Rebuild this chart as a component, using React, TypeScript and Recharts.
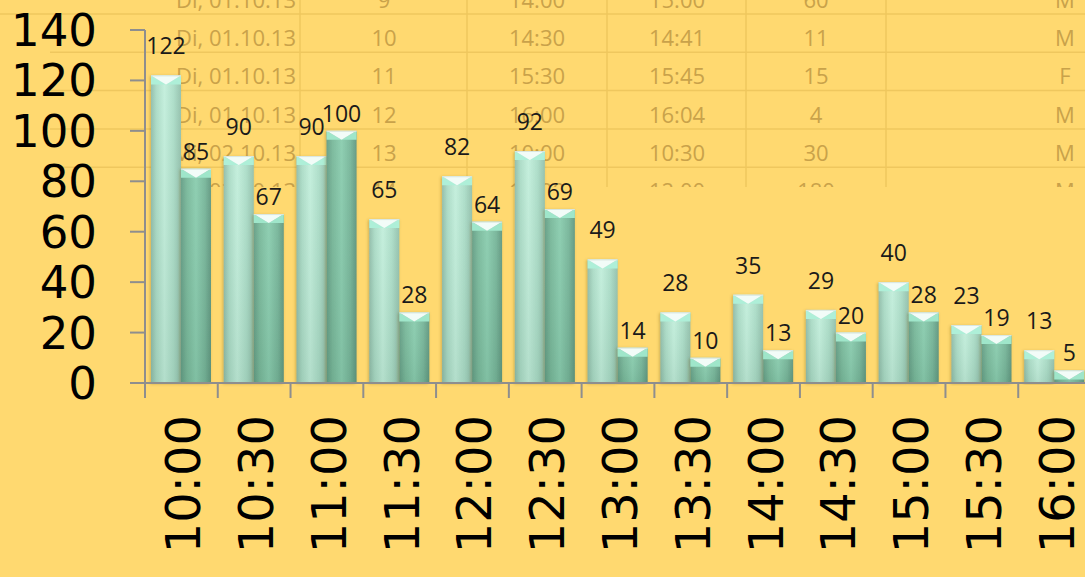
import React from 'react';
import { BarChart, Bar, XAxis, YAxis, LabelList } from 'recharts';

// arrivals per half hour, two groups
const times = ['10:00', '10:30', '11:00', '11:30', '12:00', '12:30', '13:00', '13:30', '14:00', '14:30', '15:00', '15:30', '16:00'];
const groupA = [122, 90, 90, 65, 82, 92, 49, 28, 35, 29, 40, 23, 13];
const groupB = [85, 67, 100, 28, 64, 69, 14, 10, 13, 20, 28, 19, 5];
const yTicks = [0, 20, 40, 60, 80, 100, 120, 140];

// faded spreadsheet rows behind the chart
const sheetDates = ['Di, 01.10.13', 'Di, 01.10.13', 'Di, 01.10.13', 'Di, 01.10.13', 'Mi, 02.10.13', 'Mi, 02.10.13'];
const sheetNos = ['9', '10', '11', '12', '13', '14'];
const sheetStart = ['14:00', '14:30', '15:30', '16:00', '10:00', '11:00'];
const sheetEnd = ['15:00', '14:41', '15:45', '16:04', '10:30', '12:00'];
const sheetMinutes = ['60', '11', '15', '4', '30', '180'];
const sheetSex = ['M', 'M', 'F', 'M', 'M', 'M'];

const data = times.map((t, i) => ({ time: t, a: groupA[i], b: groupB[i] }));

const BG = '#FFD970';
const AXIS = '#8E8E8E';
const CHART_W = 1091;
const CHART_H = 577;
const Y_AXIS_W = 145;
const BAND = (CHART_W - Y_AXIS_W) / times.length;

const SHEET_TEXT = '#C9A24A';
const SHEET_LINE = '#EFC75E';
const ROW_H = 38.3;
const FIRST_LINE = 14;

function Sheet() {
  const cols: { x: number; anchor: 'end' | 'middle'; cells: string[] }[] = [
    { x: 296, anchor: 'end', cells: sheetDates },
    { x: 384, anchor: 'middle', cells: sheetNos },
    { x: 537, anchor: 'middle', cells: sheetStart },
    { x: 677, anchor: 'middle', cells: sheetEnd },
    { x: 816, anchor: 'middle', cells: sheetMinutes },
    { x: 1065, anchor: 'middle', cells: sheetSex },
  ];
  const vLines = [300, 467, 607, 746, 886];
  return (
    <svg width={1085} height={577} style={{ position: 'absolute', left: 0, top: 0 }}>
      <defs>
        <clipPath id="sheetClip">
          <rect x={0} y={0} width={1085} height={187} />
        </clipPath>
        <linearGradient id="bodyA" x1="0" y1="0" x2="1" y2="0">
          <stop offset="0%" stopColor="#8DBBA7" />
          <stop offset="18%" stopColor="#A8DAC4" />
          <stop offset="45%" stopColor="#C0EEDA" />
          <stop offset="75%" stopColor="#A9DCC6" />
          <stop offset="100%" stopColor="#8FBEA9" />
        </linearGradient>
        <linearGradient id="bodyB" x1="0" y1="0" x2="1" y2="0">
          <stop offset="0%" stopColor="#5F9A81" />
          <stop offset="20%" stopColor="#74B697" />
          <stop offset="50%" stopColor="#86CBAC" />
          <stop offset="80%" stopColor="#72B396" />
          <stop offset="100%" stopColor="#5B947C" />
        </linearGradient>
        <linearGradient id="shade" x1="0" y1="0" x2="0" y2="1">
          <stop offset="0%" stopColor="#ffffff" stopOpacity={0.08} />
          <stop offset="100%" stopColor="#556b60" stopOpacity={0.12} />
        </linearGradient>
        <filter id="barShadow" x="-20%" y="-5%" width="140%" height="110%">
          <feDropShadow dx={-1} dy={1} stdDeviation={1.6} floodColor="#6E5A1E" floodOpacity={0.35} />
        </filter>
      </defs>
      <g clipPath="url(#sheetClip)">
        {[0, 1, 2, 3, 4].map((r) => (
          <line
            key={r}
            x1={r === 0 ? 0 : 50}
            x2={1085}
            y1={FIRST_LINE + r * ROW_H}
            y2={FIRST_LINE + r * ROW_H}
            stroke={SHEET_LINE}
            strokeWidth={1.5}
          />
        ))}
        {vLines.map((x) => (
          <line key={x} x1={x} x2={x} y1={0} y2={187} stroke={SHEET_LINE} strokeWidth={1.5} />
        ))}
        {cols.map((c, ci) =>
          c.cells.map((txt, r) => (
            <text
              key={`${ci}-${r}`}
              x={c.x}
              y={FIRST_LINE + (r - 1) * ROW_H + ROW_H / 2 + 4}
              textAnchor={c.anchor}
              dominantBaseline="central"
              fontFamily="'Open Sans', sans-serif"
              fontSize={22}
              fill={SHEET_TEXT}
            >
              {txt}
            </text>
          ))
        )}
      </g>
    </svg>
  );
}

function GlassBar(props: any) {
  const { x, y, width, height, tone } = props;
  if (!height || height <= 0) return null;
  const cap = Math.min(9, height);
  const mid = x + width / 2;
  const side = tone === 'a' ? '#AEEFD8' : '#9FE6CA';
  return (
    <g filter="url(#barShadow)">
      <rect x={x} y={y} width={width} height={height} fill={tone === 'a' ? 'url(#bodyA)' : 'url(#bodyB)'} />
      <rect x={x} y={y} width={width} height={height} fill="url(#shade)" />
      <polygon points={`${x},${y} ${mid},${y + cap} ${x},${y + cap}`} fill={side} />
      <polygon points={`${x + width},${y} ${mid},${y + cap} ${x + width},${y + cap}`} fill={side} />
      <polygon points={`${x},${y} ${x + width},${y} ${mid},${y + cap}`} fill="#F2FCF8" />
      <line x1={x} x2={x + width} y1={y + 0.5} y2={y + 0.5} stroke="#D8E6E0" strokeWidth={1} />
    </g>
  );
}

function TimeTick(props: any) {
  const { x, y, payload } = props;
  const tx = x + 2;
  const ty = y + 32;
  return (
    <g>
      <line x1={x - BAND / 2} x2={x - BAND / 2} y1={y} y2={y + 15} stroke={AXIS} strokeWidth={2} />
      <text
        x={tx}
        y={ty}
        transform={`rotate(-90 ${tx} ${ty})`}
        textAnchor="end"
        dominantBaseline="central"
        fontFamily="'DejaVu Sans', sans-serif"
        fontSize={48}
        fill="#000"
      >
        {payload.value}
      </text>
    </g>
  );
}

export default function App() {
  return (
    <div
      style={{
        position: 'absolute',
        left: 0,
        top: 0,
        width: 1085,
        height: 577,
        overflow: 'hidden',
        background: BG,
      }}
    >
      <Sheet />
      <div style={{ position: 'absolute', left: 0, top: 0 }}>
        <BarChart
          width={CHART_W}
          height={CHART_H}
          data={data}
          margin={{ top: 30, right: 0, bottom: 0, left: 0 }}
          barSize={30}
          barGap={0}
        >
          <XAxis
            dataKey="time"
            height={194}
            interval={0}
            tickLine={false}
            tickSize={0}
            tickMargin={0}
            axisLine={{ stroke: AXIS, strokeWidth: 2 }}
            tick={<TimeTick />}
          />
          <YAxis
            width={Y_AXIS_W}
            domain={[0, 140]}
            ticks={yTicks}
            interval={0}
            tickSize={15}
            tickMargin={33}
            axisLine={{ stroke: AXIS, strokeWidth: 2 }}
            tickLine={{ stroke: AXIS, strokeWidth: 2 }}
            tick={{ fontSize: 45, fontFamily: "'DejaVu Sans', sans-serif", fill: '#000' }}
          />
          <Bar dataKey="a" isAnimationActive={false} shape={(p: any) => <GlassBar {...p} tone="a" />}>
            <LabelList
              dataKey="a"
              position="top"
              offset={21}
              fontSize={23}
              fontFamily="'Open Sans', sans-serif"
              fill="#1A1A1A"
            />
          </Bar>
          <Bar dataKey="b" isAnimationActive={false} shape={(p: any) => <GlassBar {...p} tone="b" />}>
            <LabelList
              dataKey="b"
              position="top"
              offset={9}
              fontSize={23}
              fontFamily="'Open Sans', sans-serif"
              fill="#1A1A1A"
            />
          </Bar>
        </BarChart>
      </div>
    </div>
  );
}
